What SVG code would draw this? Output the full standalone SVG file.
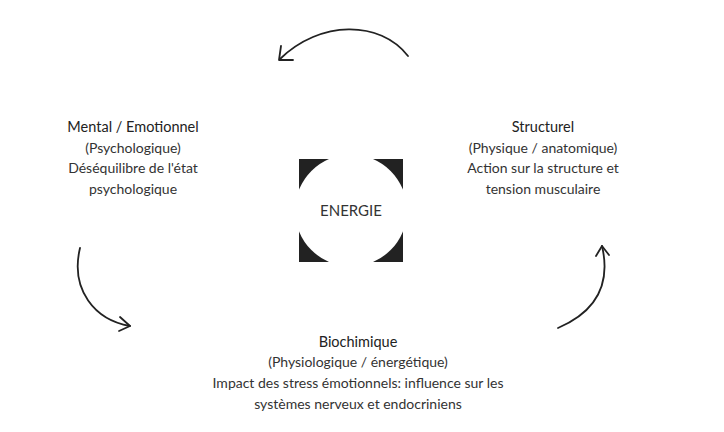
<svg xmlns="http://www.w3.org/2000/svg" width="724" height="432" viewBox="0 0 724 432">
<style>
text{font-family:"Lato","Noto Sans",sans-serif;font-size:14px;fill:#333;text-anchor:middle}
.t{fill:#222;font-size:14.5px}
.c{fill:none;stroke:#222;stroke-width:1.8;stroke-linecap:round;stroke-linejoin:round}
</style>
<defs><clipPath id="sq"><rect x="299" y="159" width="104" height="103"/></clipPath></defs>
<rect width="724" height="432" fill="#fff"/>
<g id="energie">
<rect x="299" y="159" width="104" height="103" fill="#222"/>
<circle cx="351" cy="210.5" r="56" fill="#fff" clip-path="url(#sq)"/>
<text x="351" y="216" style="font-size:15px">ENERGIE</text>
</g>
<g id="mental">
<text class="t" x="133" y="132">Mental / Emotionnel</text>
<text x="133" y="153">(Psychologique)</text>
<text x="133" y="173">Déséquilibre de l'état</text>
<text x="133" y="194">psychologique</text>
</g>
<g id="structurel">
<text class="t" x="543" y="132">Structurel</text>
<text x="543" y="153">(Physique / anatomique)</text>
<text x="543" y="173">Action sur la structure et</text>
<text x="543" y="194">tension musculaire</text>
</g>
<g id="biochimique">
<text class="t" x="358" y="347">Biochimique</text>
<text x="358" y="367">(Physiologique / énergétique)</text>
<text x="358" y="388">Impact des stress émotionnels: influence sur les</text>
<text x="358" y="409">systèmes nerveux et endocriniens</text>
</g>
<g id="connectors">
<path class="c" d="M408 56 C380 20 320 20 280 59"/>
<path class="c" d="M281 46 L279 60 L293 60"/>
<path class="c" d="M80 248 C70 290 95 320 130 326"/>
<path class="c" d="M120 317 L130 326 L119 331"/>
<path class="c" d="M558 328 C600 310 610 280 602 246"/>
<path class="c" d="M596 256 L602 246 L609 255"/>
</g>
</svg>
